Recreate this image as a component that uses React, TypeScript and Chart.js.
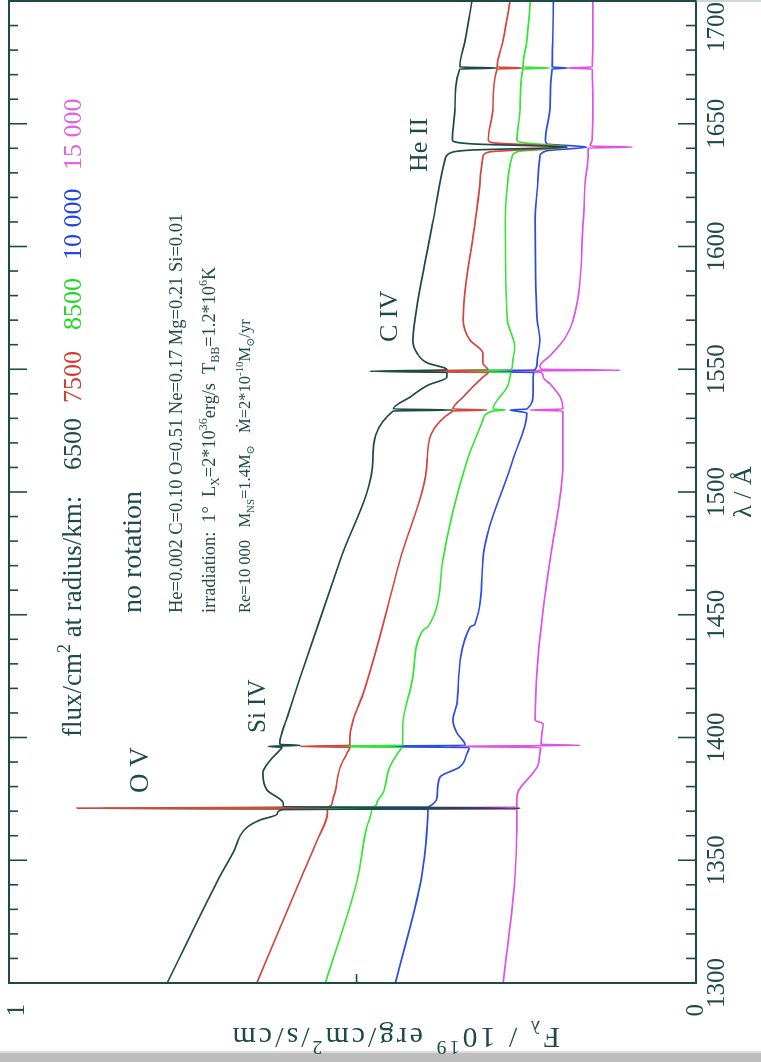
import React, { useEffect, useRef } from 'react';
import { Chart, registerables } from 'chart.js';

Chart.register(...registerables);

// ---------------- data ----------------
const radiiLabels = ['6500', '7500', '8500', '10 000', '15 000'];
const seriesColors = ['#1e4a48', '#d4473e', '#33e633', '#2a4fe0', '#dd55e6'];
const legendColors = ['#1e4a48', '#d63b30', '#22d822', '#2244dd', '#e060e6'];

const lambdaTickStep = 50;
const lambdaMinorStep = 10;
const fluxTickLabels = [0, 1];
const lineLabels = ['O V', 'Si IV', 'C IV', 'He II'];

const waveBlack = [1300.0, 1342.0, 1353.0, 1363.5, 1366.4, 1368.8, 1370.6, 1371.2, 1371.8, 1373.3, 1378.6, 1385.5, 1390.8, 1394.9, 1396.0, 1396.4, 1396.8, 1397.2, 1398.2, 1401.8, 1408.4, 1424.6, 1472.3, 1513.0, 1533.0, 1533.4, 1533.8, 1538.7, 1543.5, 1546.8, 1548.7, 1549.2, 1549.7, 1550.5, 1552.5, 1556.6, 1561.9, 1570.1, 1610.8, 1635.2, 1638.1, 1639.3, 1640.5, 1641.8, 1643.4, 1656.8, 1672.3, 1672.7, 1673.1, 1684.1, 1700.0];
const fluxBlack = [0.779, 0.704, 0.682, 0.661, 0.642, 0.617, 0.610, 0.259, 0.608, 0.608, 0.632, 0.638, 0.627, 0.613, 0.610, 0.630, 0.583, 0.613, 0.613, 0.610, 0.602, 0.583, 0.524, 0.476, 0.446, 0.359, 0.446, 0.421, 0.395, 0.367, 0.367, 0.480, 0.367, 0.370, 0.395, 0.411, 0.417, 0.414, 0.387, 0.370, 0.362, 0.330, 0.190, 0.330, 0.359, 0.355, 0.348, 0.293, 0.348, 0.340, 0.330];

const waveRed = [1300.0, 1342.0, 1358.2, 1369.2, 1370.8, 1371.2, 1371.6, 1373.3, 1377.4, 1388.0, 1393.7, 1396.0, 1396.4, 1396.8, 1400.2, 1407.1, 1418.1, 1472.3, 1513.0, 1533.0, 1533.4, 1533.8, 1538.7, 1546.8, 1548.7, 1549.2, 1549.7, 1552.5, 1556.6, 1561.9, 1570.1, 1610.8, 1627.1, 1636.5, 1638.5, 1640.5, 1642.3, 1643.4, 1656.8, 1672.3, 1672.7, 1673.1, 1684.1, 1700.0];
const fluxRed = [0.647, 0.583, 0.558, 0.543, 0.543, 0.912, 0.543, 0.536, 0.532, 0.524, 0.514, 0.510, 0.583, 0.510, 0.510, 0.505, 0.490, 0.436, 0.396, 0.358, 0.308, 0.358, 0.343, 0.314, 0.306, 0.451, 0.306, 0.314, 0.314, 0.333, 0.343, 0.325, 0.318, 0.314, 0.305, 0.190, 0.300, 0.306, 0.299, 0.293, 0.255, 0.293, 0.284, 0.274];

const waveGreen = [1300.0, 1342.0, 1363.5, 1367.6, 1370.8, 1371.2, 1371.6, 1373.3, 1377.4, 1388.0, 1394.9, 1396.0, 1396.4, 1396.8, 1400.2, 1404.3, 1424.6, 1443.8, 1445.0, 1472.3, 1513.0, 1529.3, 1533.0, 1533.4, 1533.8, 1542.8, 1546.8, 1548.7, 1549.2, 1549.7, 1552.5, 1559.1, 1570.1, 1610.8, 1627.1, 1636.5, 1638.7, 1640.5, 1642.3, 1643.4, 1656.8, 1672.3, 1672.7, 1673.1, 1684.1, 1700.0];
const fluxGreen = [0.546, 0.499, 0.485, 0.480, 0.478, 0.873, 0.478, 0.470, 0.461, 0.451, 0.436, 0.433, 0.549, 0.432, 0.432, 0.432, 0.417, 0.402, 0.395, 0.373, 0.337, 0.314, 0.299, 0.281, 0.299, 0.278, 0.274, 0.273, 0.433, 0.272, 0.270, 0.267, 0.278, 0.281, 0.277, 0.271, 0.262, 0.190, 0.255, 0.264, 0.259, 0.255, 0.216, 0.255, 0.249, 0.244];

const waveBlue = [1300.0, 1342.0, 1363.5, 1369.2, 1370.8, 1371.2, 1371.6, 1377.4, 1383.9, 1388.0, 1393.7, 1395.9, 1396.4, 1396.8, 1401.8, 1407.1, 1414.1, 1445.0, 1446.0, 1472.3, 1513.0, 1532.2, 1533.4, 1533.8, 1540.3, 1546.8, 1548.7, 1549.2, 1549.7, 1552.5, 1561.9, 1570.1, 1610.8, 1627.1, 1636.5, 1639.0, 1640.5, 1641.8, 1643.4, 1656.8, 1672.3, 1672.7, 1673.1, 1684.1, 1700.0];
const fluxBlue = [0.443, 0.405, 0.396, 0.395, 0.395, 0.829, 0.395, 0.381, 0.377, 0.348, 0.337, 0.334, 0.510, 0.340, 0.352, 0.358, 0.352, 0.333, 0.326, 0.314, 0.270, 0.249, 0.274, 0.249, 0.240, 0.240, 0.239, 0.409, 0.238, 0.234, 0.230, 0.234, 0.237, 0.233, 0.230, 0.220, 0.161, 0.220, 0.222, 0.215, 0.212, 0.190, 0.212, 0.211, 0.210];

const waveMagenta = [1300.0, 1342.0, 1363.5, 1370.8, 1371.2, 1371.6, 1374.5, 1378.0, 1388.0, 1393.7, 1395.9, 1396.4, 1396.8, 1397.2, 1401.8, 1405.5, 1407.1, 1431.6, 1458.9, 1472.3, 1513.0, 1533.0, 1533.4, 1533.8, 1538.7, 1544.0, 1546.8, 1548.7, 1549.2, 1549.6, 1550.0, 1551.3, 1555.5, 1561.9, 1570.1, 1610.8, 1627.1, 1636.5, 1640.1, 1640.5, 1640.9, 1643.4, 1656.8, 1672.3, 1672.7, 1673.1, 1684.1, 1700.0];
const fluxMagenta = [0.284, 0.267, 0.264, 0.264, 0.735, 0.264, 0.264, 0.262, 0.234, 0.230, 0.229, 0.362, 0.171, 0.228, 0.227, 0.225, 0.237, 0.233, 0.222, 0.215, 0.196, 0.196, 0.244, 0.196, 0.200, 0.215, 0.225, 0.228, 0.352, 0.112, 0.228, 0.230, 0.215, 0.195, 0.181, 0.166, 0.163, 0.159, 0.159, 0.094, 0.156, 0.153, 0.152, 0.153, 0.190, 0.153, 0.152, 0.152];

const seriesWaves = [waveBlack, waveRed, waveGreen, waveBlue, waveMagenta];
const seriesFluxes = [fluxBlack, fluxRed, fluxGreen, fluxBlue, fluxMagenta];

// ---------------- layout ----------------
const CW = 1062; // canvas width (becomes page height after rotation)
const CH = 761; // canvas height (becomes page width)
const INK = '#1e4a48';
const SERIF = '"Liberation Serif", "Times New Roman", "DejaVu Serif", serif';

type Part = { t: string; s?: 'sup' | 'sub'; c?: string };

function drawRich(ctx: CanvasRenderingContext2D, parts: Part[], x: number, y: number, size: number, color: string) {
  let cx = x;
  for (const p of parts) {
    const fs = p.s ? size * 0.66 : size;
    ctx.font = `${fs}px ${SERIF}`;
    ctx.fillStyle = p.c || color;
    const dy = p.s === 'sup' ? -size * 0.42 : p.s === 'sub' ? size * 0.24 : 0;
    ctx.fillText(p.t, cx, y + dy);
    cx += ctx.measureText(p.t).width;
  }
  return cx;
}

const decorPlugin = {
  id: 'decor',
  beforeDraw(chart: any) {
    const ctx: CanvasRenderingContext2D = chart.ctx;
    ctx.save();
    ctx.fillStyle = '#ffffff';
    ctx.fillRect(0, 0, CW, CH);
    // scanner shadow band
    ctx.fillStyle = '#bebebe';
    ctx.fillRect(0, 0, 9, CH);
    ctx.fillStyle = '#dcdcdc';
    ctx.fillRect(9, 0, 2, CH);
    ctx.restore();
  },
  afterDraw(chart: any) {
    const ctx: CanvasRenderingContext2D = chart.ctx;
    const xs = chart.scales.x;
    const ys = chart.scales.y;
    const a = chart.chartArea;
    ctx.save();
    // frame
    ctx.strokeStyle = INK;
    ctx.lineWidth = 2;
    ctx.strokeRect(a.left, a.top, a.right - a.left, a.bottom - a.top);
    // page edge line
    ctx.strokeStyle = '#9fb0b0';
    ctx.lineWidth = 1;
    ctx.beginPath();
    ctx.moveTo(a.right, a.bottom);
    ctx.lineTo(a.right, CH);
    ctx.stroke();
    // lambda ticks (inward, both sides)
    ctx.strokeStyle = INK;
    ctx.lineWidth = 1.6;
    for (let l = xs.min; l <= xs.max + 0.01; l += lambdaMinorStep) {
      const u = xs.getPixelForValue(l);
      const major = Math.abs(l % lambdaTickStep) < 0.01;
      const len = major ? 18 : 10;
      ctx.beginPath();
      ctx.moveTo(u, a.bottom);
      ctx.lineTo(u, a.bottom - len);
      ctx.moveTo(u, a.top);
      ctx.lineTo(u, a.top + (major ? 18 : 9));
      ctx.stroke();
    }
    // flux tick
    const vHalf = ys.getPixelForValue(0.5);
    ctx.beginPath();
    ctx.moveTo(a.left, vHalf);
    ctx.lineTo(a.left + 9, vHalf);
    ctx.stroke();

    // last lambda label, kept inside the page
    ctx.fillStyle = INK;
    ctx.font = `25px ${SERIF}`;
    ctx.textAlign = 'right';
    ctx.textBaseline = 'middle';
    ctx.fillText(String(xs.max), CW - 2, a.bottom + 6 + 15);

    // axis titles
    ctx.textAlign = 'center';
    ctx.textBaseline = 'alphabetic';
    ctx.font = `26px ${SERIF}`;
    ctx.fillText('λ / Å', (a.left + a.right) / 2, 751);

    ctx.save();
    ctx.translate(34, 560);
    ctx.rotate(-Math.PI / 2);
    ctx.textAlign = 'left';
    (ctx as any).letterSpacing = '3px';
    drawRich(ctx, [
      { t: 'F' }, { t: 'λ', s: 'sub' }, { t: ' / 10' }, { t: '19', s: 'sup' },
      { t: ' erg/cm' }, { t: '2', s: 'sup' }, { t: '/s/cm' },
    ], 0, 0, 30, INK);
    (ctx as any).letterSpacing = '0px';
    ctx.restore();

    // annotations
    ctx.textAlign = 'left';
    ctx.textBaseline = 'alphabetic';
    drawRich(ctx, [{ t: 'flux/cm' }, { t: '2', s: 'sup' }, { t: ' at radius/km:' }], 325, 81, 27, INK);
    const numStarts = [592, 659, 732, 802, 892];
    radiiLabels.forEach((r, i) => {
      drawRich(ctx, [{ t: r }], numStarts[i], 81, 26, legendColors[i]);
    });
    drawRich(ctx, [{ t: 'no rotation' }], 449, 141, 28, INK);
    drawRich(ctx, [{ t: 'He=0.002 C=0.10 O=0.51 Ne=0.17 Mg=0.21 Si=0.01' }], 449, 182, 18.5, INK);
    drawRich(ctx, [
      { t: 'irradiation:  1°  L' }, { t: 'X', s: 'sub' }, { t: '=2*10' }, { t: '36', s: 'sup' },
      { t: 'erg/s  T' }, { t: 'BB', s: 'sub' }, { t: '=1.2*10' }, { t: '6', s: 'sup' }, { t: 'K' },
    ], 449, 215, 18.3, INK);
    drawRich(ctx, [
      { t: 'Re=10 000   M' }, { t: 'NS', s: 'sub' }, { t: '=1.4M' }, { t: '⊙', s: 'sub' },
      { t: '   Ṁ=2*10' }, { t: '-10', s: 'sup' }, { t: 'M' }, { t: '⊙', s: 'sub' }, { t: '/yr' },
    ], 449, 250, 16.5, INK);

    const labelPos = [[269, 148, 27], [329, 265, 25], [720, 397, 26], [890, 427, 26]];
    lineLabels.forEach((t, i) => {
      const [u, v, s] = labelPos[i];
      drawRich(ctx, [{ t }], u, v, s, INK);
    });
    ctx.restore();
  },
};

export default function App() {
  const ref = useRef<HTMLCanvasElement>(null);
  useEffect(() => {
    const canvas = ref.current;
    if (!canvas) return;
    const datasets = seriesWaves.map((w, i) => ({
      label: radiiLabels[i],
      data: w.map((x, j) => ({ x, y: seriesFluxes[i][j] })),
      borderColor: seriesColors[i],
      backgroundColor: seriesColors[i],
      borderWidth: 1.7,
      showLine: true,
      fill: false,
      pointRadius: 0,
      cubicInterpolationMode: 'monotone' as const,
    }));
    const chart = new Chart(canvas, {
      type: 'scatter',
      data: { datasets },
      plugins: [decorPlugin],
      options: {
        responsive: false,
        animation: false,
        devicePixelRatio: 1,
        layout: { padding: { top: 9, right: 1, left: 0, bottom: 0 } },
        plugins: { legend: { display: false }, tooltip: { enabled: false } },
        scales: {
          x: {
            type: 'linear',
            min: 1300,
            max: 1700,
            grid: { display: false, drawTicks: false },
            border: { display: false },
            ticks: {
              stepSize: lambdaTickStep,
              autoSkip: false,
              maxRotation: 0,
              padding: 6,
              color: INK,
              font: { family: SERIF, size: 25 },
              callback: (v: any) => (Number(v) === 1700 ? '' : String(v)),
            },
            afterFit: (s: any) => {
              s.height = 65;
              s.paddingLeft = 0; s.paddingRight = 0; s.paddingTop = 0; s.paddingBottom = 0;
            },
          },
          y: {
            type: 'linear',
            min: 0,
            max: 1.012,
            grid: { display: false, drawTicks: false },
            border: { display: false },
            afterBuildTicks: (s: any) => { s.ticks = fluxTickLabels.map((value) => ({ value })); },
            ticks: {
              padding: 21,
              color: INK,
              font: { family: SERIF, size: 25 },
              callback: (v: any) => String(v),
            },
            afterFit: (s: any) => {
              s.width = 79;
              s.paddingLeft = 0; s.paddingRight = 0; s.paddingTop = 0; s.paddingBottom = 0;
            },
          },
        },
      },
    });
    return () => chart.destroy();
  }, []);

  return (
    <div style={{ position: 'fixed', left: 0, top: 0, width: 761, height: 1062, overflow: 'hidden', background: '#fff' }}>
      <div style={{ position: 'absolute', left: 0, top: 0, width: CW, height: CH, transformOrigin: '0 0', transform: 'translateY(1062px) rotate(-90deg)' }}>
        <canvas ref={ref} width={CW} height={CH} style={{ width: CW, height: CH, display: 'block' }} />
      </div>
    </div>
  );
}
